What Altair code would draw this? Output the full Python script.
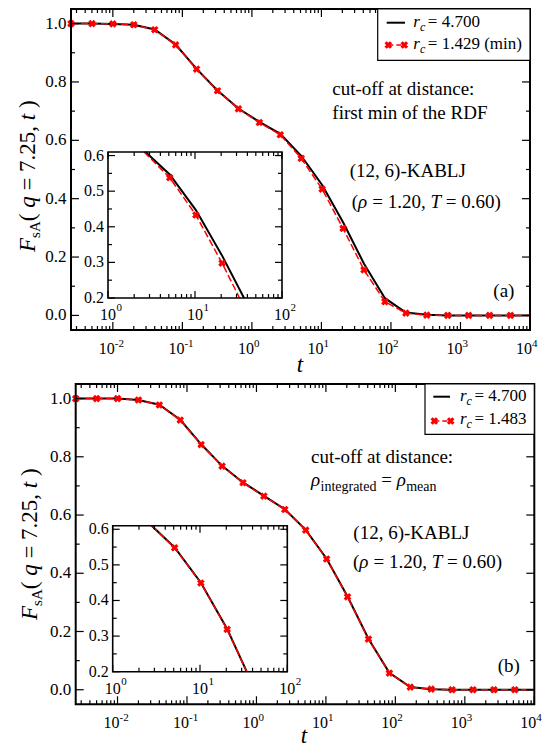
import altair as alt
import pandas as pd

FONT = "Liberation Serif"

# ---------------- data ----------------
t_pts = [0.0025, 0.005, 0.01, 0.02, 0.04, 0.08, 0.16, 0.32, 0.64, 1.28, 2.56,
         5.12, 10.24, 20.48, 40.96, 81.92, 163.84, 327.68, 655.36, 1310.72,
         2621.44, 5242.88]
t_end = 10000.0

black_a = [1.000, 1.000, 0.999, 0.996, 0.980, 0.928, 0.845, 0.771, 0.709, 0.663, 0.622,
           0.547, 0.447, 0.319, 0.177, 0.059, 0.010, 0.002, 0.000, 0.000, 0.000, 0.000]
red_a = [1.000, 1.000, 0.999, 0.996, 0.979, 0.927, 0.844, 0.770, 0.708, 0.661, 0.619,
         0.538, 0.433, 0.298, 0.156, 0.047, 0.008, 0.001, 0.000, 0.000, 0.000, 0.000]
black_b = [1.000, 1.000, 1.000, 0.995, 0.979, 0.927, 0.843, 0.769, 0.712, 0.666, 0.620,
           0.549, 0.450, 0.320, 0.175, 0.058, 0.009, 0.002, 0.000, 0.000, 0.000, 0.000]
red_b = [1.000, 1.000, 1.000, 0.995, 0.978, 0.926, 0.842, 0.768, 0.711, 0.665, 0.619,
         0.548, 0.449, 0.319, 0.174, 0.057, 0.009, 0.002, 0.000, 0.000, 0.000, 0.000]
F_end = 0.0

# insets (visible vertices)
ins_a_black_t = [2.7, 5.12, 10.24, 20.48, 36.6]
ins_a_black_F = [0.61, 0.547, 0.447, 0.319, 0.2]
ins_a_red_t = [2.6, 5.12, 10.24, 20.48, 32.5]
ins_a_red_F = [0.61, 0.538, 0.433, 0.298, 0.2]
ins_a_mark_t = [5.12, 10.24, 20.48]
ins_a_mark_F = [0.538, 0.433, 0.298]

ins_b_black_t = [2.8, 5.12, 10.24, 20.48, 34.3]
ins_b_black_F = [0.61, 0.549, 0.450, 0.320, 0.2]
ins_b_red_t = [2.8, 5.12, 10.24, 20.48, 34.3]
ins_b_red_F = [0.61, 0.548, 0.449, 0.319, 0.2]
ins_b_mark_t = [5.12, 10.24, 20.48]
ins_b_mark_F = [0.548, 0.449, 0.319]

# ticks / labels
main_x_major = [0.01, 0.1, 1, 10, 100, 1000, 10000]
main_x_exp = ["-2", "-1", "0", "1", "2", "3", "4"]
main_x_minor = [m * 10.0 ** e for e in range(-3, 4) for m in range(2, 10) if m * 10.0 ** e >= 0.0025]
main_y_major = [0.0, 0.2, 0.4, 0.6, 0.8, 1.0]
main_y_labels = ["0.0", "0.2", "0.4", "0.6", "0.8", "1.0"]
main_y_minor = [0.1, 0.3, 0.5, 0.7, 0.9]
ins_x_major = [1, 10, 100]
ins_x_exp = ["0", "1", "2"]
ins_x_minor = [2, 3, 4, 5, 6, 7, 8, 9, 20, 30, 40, 50, 60, 70, 80, 90]
ins_y_major = [0.2, 0.3, 0.4, 0.5, 0.6]
ins_y_labels = ["0.2", "0.3", "0.4", "0.5", "0.6"]
ins_y_minor = [0.25, 0.35, 0.45, 0.55]

# ---------------- helpers ----------------
one = pd.DataFrame({"k": [0]})

W_REG = {' ': .25, '(': .333, ')': .333, ',': .25, '.': .25, '-': .333, '=': .564, ':': .278,
         'a': .444, 'c': .444, 'd': .5, 'e': .444, 'f': .333, 'g': .5, 'i': .278, 'm': .778,
         'n': .5, 'o': .5, 'r': .333, 's': .389, 't': .278, 'u': .5, 'h': .5,
         'A': .722, 'B': .667, 'D': .722, 'F': .556, 'J': .389, 'K': .722, 'L': .611,
         'R': .667, 'T': .611}
W_IT = {'F': .611, 'q': .5, 't': .278, 'r': .389, 'c': .444, 'T': .556, 'ρ': .5}


def tw(s, size, it):
    tab = W_IT if it else W_REG
    return sum(tab.get(c, W_REG.get(c, 0.5)) for c in s) * size


def rich(pieces, x, y, angle=0):
    out = []
    pos = 0.0
    for text, size, it, shift in pieces:
        lead = len(text) - len(text.lstrip(' '))
        pos += lead * 0.25 * size
        core = text.strip(' ')
        if core:
            if angle == 0:
                px, py = x + pos, y + shift
            else:
                px, py = x + shift, y - pos
            kw = dict(align='left', baseline='alphabetic', font=FONT, fontSize=size,
                      color='black', text=core)
            if it:
                kw['fontStyle'] = 'italic'
            if angle:
                kw['angle'] = angle
            out.append(alt.Chart(one).mark_text(**kw).encode(x=alt.value(px), y=alt.value(py)))
        pos += tw(text.lstrip(' '), size, it)
    return out


def txt(text, x, y, size=19, align='left', it=False):
    kw = dict(align=align, baseline='alphabetic', font=FONT, fontSize=size, color='black', text=text)
    if it:
        kw['fontStyle'] = 'italic'
    return alt.Chart(one).mark_text(**kw).encode(x=alt.value(x), y=alt.value(y))


def line(t, F, sx, sy, color, width, dash=None):
    kw = dict(color=color, strokeWidth=width)
    if dash:
        kw['strokeDash'] = dash
    return alt.Chart(pd.DataFrame({"t": t, "F": F})).mark_line(**kw).encode(
        x=alt.X('t:Q', scale=sx, axis=None), y=alt.Y('F:Q', scale=sy, axis=None))


def marks(t, F, sx, sy):
    return alt.Chart(pd.DataFrame({"t": t, "F": F})).mark_point(
        shape='cross', angle=45, filled=True, size=60, color='red', opacity=1).encode(
        x=alt.X('t:Q', scale=sx, axis=None), y=alt.Y('F:Q', scale=sy, axis=None))


def xticks(vals, sx, ybase, length):
    return alt.Chart(pd.DataFrame({"v": vals})).mark_rule(color='black', strokeWidth=1.2).encode(
        x=alt.X('v:Q', scale=sx, axis=None), y=alt.value(ybase), y2=alt.value(ybase + length))


def yticks(vals, sy, xbase, length):
    return alt.Chart(pd.DataFrame({"v": vals})).mark_rule(color='black', strokeWidth=1.2).encode(
        y=alt.Y('v:Q', scale=sy, axis=None), x=alt.value(xbase), x2=alt.value(xbase + length))


def ylabels(vals, labs, sy, x, size):
    return alt.Chart(pd.DataFrame({"v": vals, "l": labs})).mark_text(
        align='right', baseline='middle', font=FONT, fontSize=size, color='black').encode(
        y=alt.Y('v:Q', scale=sy, axis=None), x=alt.value(x), text='l:N')


def xpow(vals, exps, sx, ybase, size, supsize, base_align, base_dx, sup_dx, sup_rise):
    d = pd.DataFrame({"v": vals, "b": ["10"] * len(vals), "e": exps})
    b = alt.Chart(d).mark_text(align=base_align, baseline='alphabetic', font=FONT,
                               fontSize=size, dx=base_dx, color='black').encode(
        x=alt.X('v:Q', scale=sx, axis=None), y=alt.value(ybase), text='b:N')
    e = alt.Chart(d).mark_text(align='left', baseline='alphabetic', font=FONT,
                               fontSize=supsize, dx=sup_dx, color='black').encode(
        x=alt.X('v:Q', scale=sx, axis=None), y=alt.value(ybase - sup_rise), text='e:N')
    return [b, e]


def box(x0, y0, x1, y1, sw, fill=None):
    kw = dict(stroke='black', strokeWidth=sw)
    if fill:
        kw['fill'] = fill
    else:
        kw['fillOpacity'] = 0
    return alt.Chart(one).mark_rect(**kw).encode(
        x=alt.value(x0), x2=alt.value(x1), y=alt.value(y0), y2=alt.value(y1))


def rule(x0, x1, y, color, width, dash=None):
    kw = dict(color=color, strokeWidth=width)
    if dash:
        kw['strokeDash'] = dash
    return alt.Chart(one).mark_rule(**kw).encode(x=alt.value(x0), x2=alt.value(x1), y=alt.value(y))


def pt(x, y):
    return alt.Chart(one).mark_point(shape='cross', angle=45, filled=True, size=60,
                                     color='red', opacity=1).encode(x=alt.value(x), y=alt.value(y))


def panel(g, black, red, ib_t, ib_F, ir_t, ir_F, im_t, im_F, legend_red, annot):
    x0, x1, y0, y1 = g['main']
    ix0, ix1, iy0, iy1 = g['inset']
    sx = alt.Scale(type='log', domain=[0.0025, 10000], range=[x0, x1], nice=False)
    sy = alt.Scale(type='linear', domain=[-0.05, 1.05], range=[y1, y0], nice=False, zero=False)
    isx = alt.Scale(type='log', domain=[1, 100], range=[ix0, ix1], nice=False)
    isy = alt.Scale(type='linear', domain=[0.2, 0.61], range=[iy1, iy0], nice=False, zero=False)
    L = []
    L.append(line(t_pts + [t_end], black + [F_end], sx, sy, 'black', 2))
    L.append(line(t_pts + [t_end], red + [F_end], sx, sy, 'red', 1.5, [7, 3]))
    L.append(marks(t_pts, red, sx, sy))
    # inset
    L.append(box(ix0, iy0, ix1, iy1, 0, fill='white'))
    L.append(line(ib_t, ib_F, isx, isy, 'black', 2))
    L.append(line(ir_t, ir_F, isx, isy, 'red', 1.5, [7, 3]))
    L.append(marks(im_t, im_F, isx, isy))
    # main ticks
    L.append(xticks(main_x_major, sx, y1, -8))
    L.append(xticks(main_x_minor, sx, y1, -4))
    L.append(xticks(main_x_major, sx, y0, 8))
    L.append(xticks(main_x_minor, sx, y0, 4))
    L.append(yticks(main_y_major, sy, x0, 8))
    L.append(yticks(main_y_minor, sy, x0, 4))
    L.append(yticks(main_y_major, sy, x1, -8))
    L.append(yticks(main_y_minor, sy, x1, -4))
    # inset ticks
    L.append(xticks(ins_x_major, isx, iy1, -7))
    L.append(xticks(ins_x_minor, isx, iy1, -4))
    L.append(xticks(ins_x_major, isx, iy0, 7))
    L.append(xticks(ins_x_minor, isx, iy0, 4))
    L.append(yticks(ins_y_major, isy, ix0, 7))
    L.append(yticks(ins_y_minor, isy, ix0, 4))
    L.append(yticks(ins_y_major, isy, ix1, -7))
    L.append(yticks(ins_y_minor, isy, ix1, -4))
    # borders
    L.append(box(x0, y0, x1, y1, 2))
    L.append(box(ix0, iy0, ix1, iy1, 1.6))
    # tick labels
    L.append(ylabels(main_y_major, main_y_labels, sy, x0 - 4.5, 17))
    L += xpow(main_x_major, main_x_exp, sx, y1 + 24, 16, 11, 'right', 2, 2, 7)
    L.append(ylabels(ins_y_major, ins_y_labels, isy, ix0 - 4, 16))
    L += xpow(ins_x_major, ins_x_exp, isx, iy1 + 22, 16, 11, 'center', 0, 8.5, 9)
    # legend
    lx0, ly0, lx1, ly1 = g['legend']
    L.append(box(lx0, ly0, lx1, ly1, 1.2, fill='white'))
    e1 = g['e1']
    e2 = g['e2']
    L.append(rule(e1['l0'], e1['l1'], e1['ly'], 'black', 2))
    L += rich([("r", 17, True, 0), ("c", 12, True, 4)], e1['tx'], e1['ty'])
    L.append(txt("= 4.700", e1['tx'] + 14.5, e1['ty'], 17))
    L.append(rule(e2['l0'], e2['l1'], e2['ly'], 'red', 1.5, [5, 3]))
    L.append(pt(e2['l0'], e2['ly']))
    L.append(pt(e2['l1'], e2['ly']))
    L += rich([("r", 17, True, 0), ("c", 12, True, 4)], e2['tx'], e2['ty'])
    L.append(txt(legend_red, e2['tx'] + 14.5, e2['ty'], 17))
    # axis titles
    yt = g['ytitle']
    L += rich([("F", 23, True, 0), ("sA", 15, False, 5), ("( ", 23, False, 0), ("q", 23, True, 0),
               (" = 7.25, ", 23, False, 0), ("t", 23, True, 0), (" )", 23, False, 0)],
              yt[0], yt[1], angle=270)
    xt = g['xtitle']
    L.append(txt("t", xt[0], xt[1], 23, align='center', it=True))
    L += annot
    return L


# geometry (chart coordinates, page minus 8px margin)
GA = dict(main=(63, 522, 1, 322), inset=(100, 274, 144, 290),
          legend=(369.7, 1, 522, 52.3),
          e1=dict(l0=378.7, l1=397, ly=14.7, tx=405.3, ty=18.7),
          e2=dict(l0=380.3, l1=396.3, ly=37, tx=405.3, ty=41.3),
          ytitle=(27, 244), xtitle=(292, 363.7))
GB = dict(main=(67.7, 526.3, 376, 696.3), inset=(104.7, 279.3, 517.7, 663.7),
          legend=(417, 376, 526.3, 426.3),
          e1=dict(l0=425.3, l1=442, ly=388.7, tx=452, ty=392.7),
          e2=dict(l0=426.3, l1=442.7, ly=413, tx=452, ty=416),
          ytitle=(29, 612), xtitle=(296, 735))

annot_a = [txt("cut-off at distance:", 324.3, 87),
           txt("first min of the RDF", 324.3, 111.3),
           txt("(12, 6)-KABLJ", 399.8, 169.3, align='center')]
annot_a += rich([("(", 19, False, 0), ("ρ", 19, True, 0), (" = 1.20, ", 19, False, 0),
                 ("T", 19, True, 0), (" = 0.60)", 19, False, 0)], 343.7, 200.3)
annot_a.append(txt("(a)", 485.3, 288.7))

annot_b = [txt("cut-off at distance:", 303, 455.3)]
annot_b += rich([("ρ", 19, True, 0), ("integrated", 14, False, 5), (" = ", 19, False, 0),
                 ("ρ", 19, True, 0), ("mean", 14, False, 5)], 303, 478)
annot_b.append(txt("(12, 6)-KABLJ", 345.3, 531.3))
annot_b += rich([("(", 19, False, 0), ("ρ", 19, True, 0), (" = 1.20, ", 19, False, 0),
                 ("T", 19, True, 0), (" = 0.60)", 19, False, 0)], 345, 560)
annot_b.append(txt("(b)", 489.7, 663.7))

layers = []
layers += panel(GA, black_a, red_a, ins_a_black_t, ins_a_black_F, ins_a_red_t, ins_a_red_F,
                ins_a_mark_t, ins_a_mark_F, "= 1.429 (min)", annot_a)
layers += panel(GB, black_b, red_b, ins_b_black_t, ins_b_black_F, ins_b_red_t, ins_b_red_F,
                ins_b_mark_t, ins_b_mark_F, "= 1.483", annot_b)

chart = alt.layer(*layers).resolve_scale(x='independent', y='independent').properties(
    width=535, height=742, padding=0, autosize=alt.AutoSizeParams(type='none')
).configure_view(stroke=None)

chart.save("out.html", embed_options={"renderer": "svg", "actions": False})
